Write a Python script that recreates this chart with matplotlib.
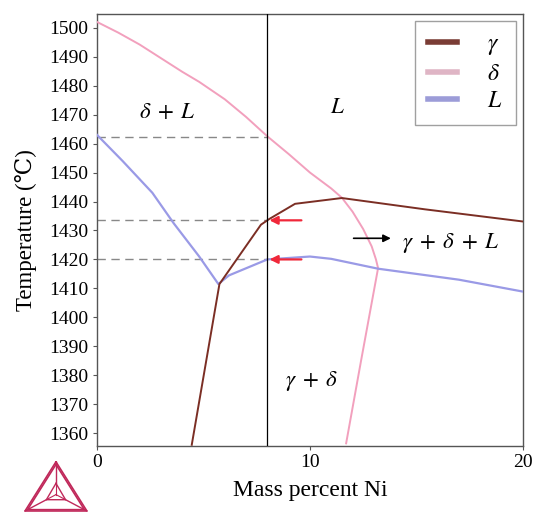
import matplotlib
matplotlib.use("Agg")
import matplotlib.pyplot as plt
from matplotlib.lines import Line2D

plt.rcParams['font.family'] = ['Liberation Serif', 'DejaVu Serif']
plt.rcParams['mathtext.fontset'] = 'stix'

# phase boundary curves (mass % Ni, temperature degC)
gamma_x = [4.45, 5.75, 7.7, 8.1, 9.3, 11.5, 15.4, 20.0]
gamma_t = [1356, 1411.5, 1432, 1434, 1439.2, 1441.2, 1437.3, 1433.1]

delta_x = [0.0, 1.0, 2.0, 3.0, 4.0, 4.8, 6.0, 7.0, 8.0, 9.0, 10.0, 11.0, 11.5, 12.0, 12.5, 12.9, 13.1, 13.2, 12.4, 11.7]
delta_t = [1502, 1498.3, 1494.2, 1489.5, 1484.8, 1481.3, 1475.3, 1469.2, 1462.5, 1456.4, 1450, 1444.5, 1441.3, 1436.5, 1430.5, 1424.5, 1420, 1417, 1385, 1356.5]

liq_x = [0.0, 1.2, 2.6, 3.6, 4.8, 5.7, 6.2, 8.0, 10.0, 11.0, 13.2, 15.0, 17.0, 20.0]
liq_t = [1463, 1454, 1443, 1432.5, 1421, 1411.5, 1414.5, 1420, 1421, 1420.2, 1416.8, 1415, 1413, 1408.9]

x_section = 8.0
guide_temps = [1462.3, 1433.5, 1420.0]
arrow_temps = [1433.5, 1420.0]

fig = plt.figure(figsize=(5.33, 5.12), dpi=100)
ax = fig.add_axes([0.182, 0.129, 0.799, 0.844])

ax.plot(gamma_x, gamma_t, color='#7b2e24', lw=1.4, zorder=4)
ax.plot(delta_x, delta_t, color='#f2a0bd', lw=1.4, zorder=3)
ax.plot(liq_x, liq_t, color='#9a9ae6', lw=1.6, zorder=3)

# vertical section at 8 % Ni and the dashed guides to the temperature axis
ax.axvline(x_section, color='black', lw=0.9, zorder=5)
for t in guide_temps:
    ax.plot([0, x_section], [t, t], color='#888888', lw=1.0, dashes=(6, 4), zorder=2)

for t in arrow_temps:
    ax.annotate('', xy=(8.1, t), xytext=(9.6, t),
                arrowprops=dict(arrowstyle='-|>', color='#f0283a', lw=1.6,
                                mutation_scale=12, shrinkA=0, shrinkB=0), zorder=6)
ax.annotate('', xy=(13.8, 1427.3), xytext=(12.05, 1427.3),
            arrowprops=dict(arrowstyle='-|>', color='black', lw=1.2,
                            mutation_scale=11, shrinkA=0, shrinkB=0))

ax.text(3.3, 1470.6, r'$\delta\;+\;L$', fontsize=16.5, ha='center', va='center')
ax.text(11.3, 1472.4, r'$L$', fontsize=16.5, ha='center', va='center')
ax.text(14.3, 1425.8, r'$\gamma\;+\;\delta\;+\;L$', fontsize=16.5, ha='left', va='center')
ax.text(10.1, 1378, r'$\gamma\;+\;\delta$', fontsize=16.5, ha='center', va='center')

ax.set_xlim(0, 20)
ax.set_ylim(1355.6, 1504.8)
ax.set_xticks([0, 10, 20])
ax.set_yticks(range(1360, 1501, 10))
ax.tick_params(labelsize=14, length=3, width=0.8, color='#555555', pad=3)
for s in ax.spines.values():
    s.set_color('#555555')
    s.set_linewidth(1.0)

ax.set_xlabel('Mass percent Ni', fontsize=17, labelpad=6)
ax.set_ylabel('Temperature (℃)', fontsize=16.5, labelpad=9)

handles = [Line2D([], [], color='#7a3c35', lw=4),
           Line2D([], [], color='#dfb5c5', lw=4),
           Line2D([], [], color='#9c9cd8', lw=4)]
leg = ax.legend(handles, [r'$\gamma$', r'$\delta$', r'$L$'], loc='upper right',
                fontsize=17, frameon=True, fancybox=False, handlelength=1.2,
                handletextpad=1.3, labelspacing=0.25, borderpad=0.55,
                borderaxespad=0.3)
leg.get_frame().set_edgecolor('#888888')
leg.get_frame().set_linewidth(1.0)

# Thermo-Calc style logo, bottom left
logo = fig.add_axes([0.045, 0.0, 0.12, 0.1])
logo.set_xlim(27, 87)
logo.set_ylim(512, 462)
logo.axis('off')
c = '#c0285a'
top, bl, br = (57, 463), (28, 511), (86, 511)
cx, cy = 57, 495
for k in (0.0, 0.08):
    pts = [(x + (cx - x) * k, y + (cy - y) * k) for x, y in (top, bl, br, top)]
    logo.plot([p[0] for p in pts], [p[1] for p in pts], color=c, lw=1.2)
inner = [(57, 484), (48, 500), (66, 500)]
for (ix, iy), (ox, oy) in zip(inner, (top, bl, br)):
    logo.plot([ix, ox], [iy, oy], color=c, lw=1.0)
pts = inner + [inner[0]]
logo.plot([p[0] for p in pts], [p[1] for p in pts], color=c, lw=1.0)
for ix, iy in inner:
    logo.plot([cx, ix], [cy, iy], color=c, lw=0.8)

fig.savefig('out.png', dpi=100)
